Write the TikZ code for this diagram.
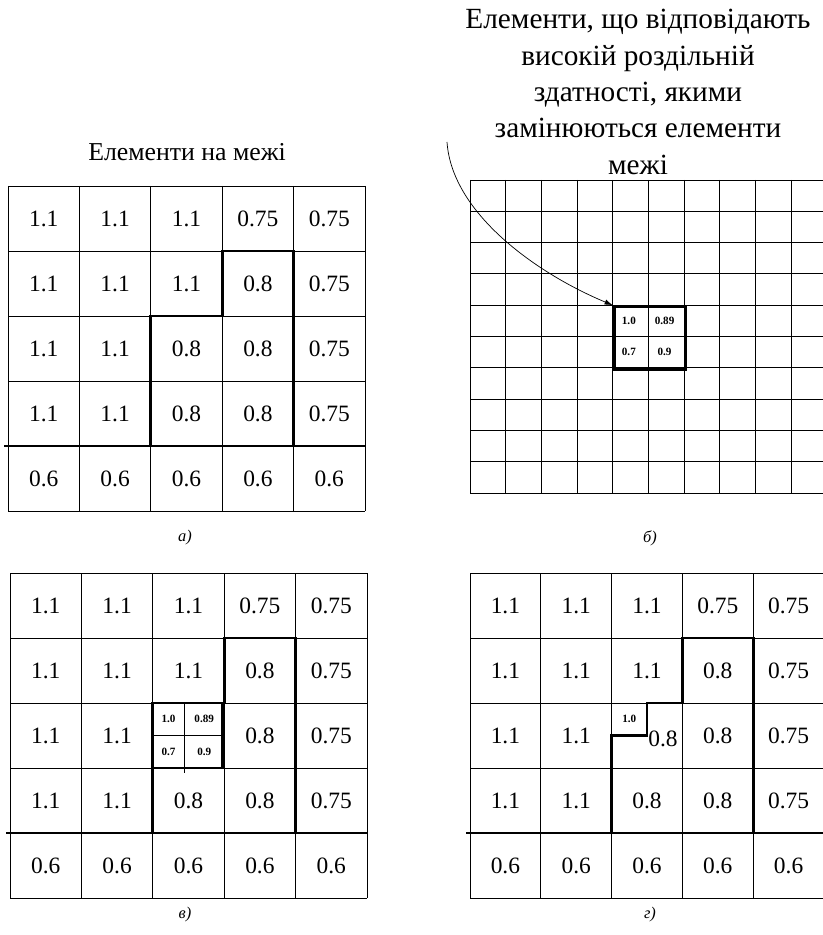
\documentclass[tikz,border=0pt]{standalone}
\usepackage{fontspec}
\setmainfont{Liberation Serif}
\usetikzlibrary{arrows.meta}

\begin{document}
\begin{tikzpicture}[x=0.03cm, y=-0.03cm,
    gridline/.style={line width=0.8pt},
    boundary/.style={line width=2.5pt},
    cellval/.style={font=\fontsize{20}{20}\selectfont},
    finetext/.style={font=\fontsize{9.5}{9.5}\selectfont\bfseries, inner sep=0pt},
    titletext/.style={font=\fontsize{22}{31}\selectfont, align=center},
    caplabel/.style={font=\fontsize{14}{14}\selectfont\itshape},
    pointer/.style={line width=0.6pt, -{Latex[length=7pt,width=4.5pt]}}]
  \path[use as bounding box, fill=white] (0,0) rectangle (823,935);

  % coarse grids a), v), g)
  \foreach \p/\full/\gx/\gy/\gw in {a/1/8/186/71.4, v/0/10/573/71.4, g/0/470/573/70.8}{
    \begin{scope}[shift={(\gx,\gy)}, xscale=\gw, yscale=65]
      \foreach \i in {0,...,5}{
        \draw[gridline] (\i,0) -- (\i,5);
        \draw[gridline] (0,\i) -- (5,\i);
      }
      \foreach \ri/\rowvals in {0/{1.1,1.1,1.1,0.75,0.75}, 1/{1.1,1.1,1.1,0.8,0.75},
          2/{1.1,1.1,0.8,0.8,0.75}, 3/{1.1,1.1,0.8,0.8,0.75}, 4/{0.6,0.6,0.6,0.6,0.6}}{
        \foreach \v [count=\ci from 0] in \rowvals{
          \ifnum\numexpr\ri*10+\ci+\full*100\relax=22 \else
            \node[cellval] (\p-\ri-\ci) at (\ci+0.5,\ri+0.5) {\v};
          \fi
        }
      }
      \draw[boundary] (-0.05,4) -- (5,4);
    \end{scope}
  }

  % a) boundary
  \begin{scope}[shift={(8,186)}, xscale=71.4, yscale=65]
    \draw[boundary] (2,4) -- (2,2) -- (3,2) -- (3,1) -- (4,1) -- (4,4);
  \end{scope}

  % v) boundary with refined cell
  \begin{scope}[shift={(10,573)}, xscale=71.4, yscale=65]
    \draw[boundary] (2,4) -- (2,2) -- (3,2) -- (3,1) -- (4,1) -- (4,4);
    \draw[boundary] (2,2) rectangle (2.97,3);
    \draw[gridline] (2.45,2) -- (2.45,3.08);
    \draw[gridline] (2,2.5) -- (2.97,2.5);
    \node[finetext] (v-s1) at (2.22,2.25) {1.0};
    \node[finetext] (v-s2) at (2.72,2.25) {0.89};
    \node[finetext] (v-s3) at (2.22,2.75) {0.7};
    \node[finetext] (v-s4) at (2.72,2.75) {0.9};
  \end{scope}

  % g) boundary after replacement
  \begin{scope}[shift={(470,573)}, xscale=70.8, yscale=65]
    \draw[boundary] (2,4) -- (2,2.5) -- (2.5,2.5) -- (2.5,2) -- (3,2) -- (3,1) -- (4,1) -- (4,4);
    \node[finetext] (g-s1) at (2.25,2.25) {1.0};
    \node[cellval, anchor=west, inner sep=1pt] (g-rest) at (2.5,2.55) {0.8};
  \end{scope}

  % b) fine grid
  \begin{scope}[shift={(470,180)}, xscale=35.7, yscale=31.3]
    \foreach \i in {0,...,10}{
      \draw[gridline] (\i,0) -- (\i,10);
      \draw[gridline] (0,\i) -- (10,\i);
    }
    \node[draw, boundary, inner sep=0pt, minimum width=2.142cm, minimum height=1.878cm,
      anchor=north west] (hires) at (4,4) {};
    \node[finetext] (b-s1) at (4.45,4.5) {1.0};
    \node[finetext] (b-s2) at (5.45,4.5) {0.89};
    \node[finetext] (b-s3) at (4.45,5.5) {0.7};
    \node[finetext] (b-s4) at (5.45,5.5) {0.9};
  \end{scope}

  % titles
  \node[titletext] (boundtitle) at (187,152) {Елементи на межі};
  \node[titletext, font=\fontsize{25}{31}\selectfont] (hirestitle) at (638,92)
    {Елементи, що відповідають\\високій роздільній\\здатності, якими\\замінюються елементи\\межі};
  \coordinate (arrowtail) at (447,142);
  \draw[pointer] (arrowtail) .. controls (452,215) and (540,275) .. (hires.north west);

  % captions
  \node[caplabel] (cap-a) at (185,538) {а)};
  \node[caplabel] (cap-b) at (650,538) {б)};
  \node[caplabel] (cap-v) at (185,915) {в)};
  \node[caplabel] (cap-g) at (650,915) {г)};
\end{tikzpicture}
\end{document}
